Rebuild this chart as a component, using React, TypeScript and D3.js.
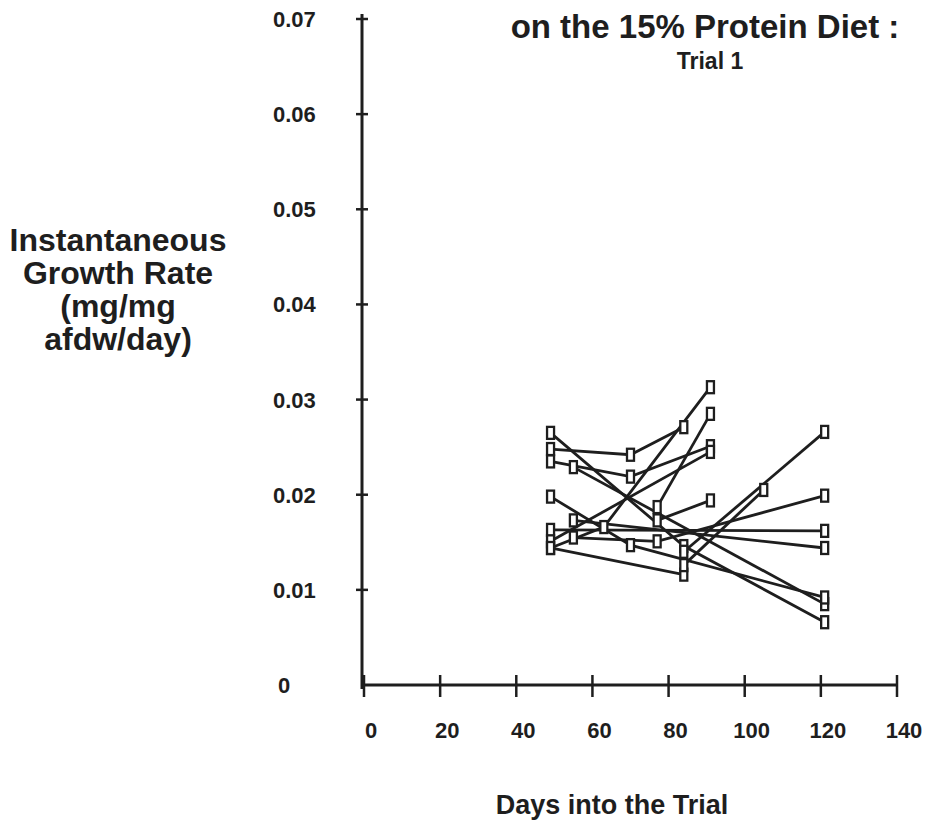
import React from "react";
import * as d3 from "d3";

// Axis ticks
const xTicks = [0, 20, 40, 60, 80, 100, 120, 140];
const yTicks = [0, 0.01, 0.02, 0.03, 0.04, 0.05, 0.06, 0.07];
const yTickLabels = ["0", "0.01", "0.02", "0.03", "0.04", "0.05", "0.06", "0.07"];

// Each fish: [day, instantaneous growth rate]
const fishA: [number, number][] = [[49, 0.0248], [70, 0.0242], [84, 0.0271]];
const fishB: [number, number][] = [[49, 0.0235], [70, 0.0219], [91, 0.0251]];
const fishC: [number, number][] = [[49, 0.0265], [84, 0.0146], [121, 0.0066]];
const fishD: [number, number][] = [[55, 0.0229], [121, 0.0085]];
const fishE: [number, number][] = [[49, 0.0198], [70, 0.0147], [121, 0.0092]];
const fishF: [number, number][] = [[49, 0.0163], [121, 0.0162]];
const fishG: [number, number][] = [[49, 0.0144], [63, 0.0166], [91, 0.0313]];
const fishH: [number, number][] = [[49, 0.0151], [91, 0.0245]];
const fishI: [number, number][] = [[49, 0.0144], [84, 0.0116]];
const fishJ: [number, number][] = [[55, 0.0173], [121, 0.0144]];
const fishK: [number, number][] = [[55, 0.0155], [77, 0.0151], [121, 0.0199]];
const fishL: [number, number][] = [[77, 0.0173], [91, 0.0194]];
const fishM: [number, number][] = [[77, 0.0187], [91, 0.0285]];
const fishN: [number, number][] = [[84, 0.014], [121, 0.0266]];
const fishO: [number, number][] = [[84, 0.0126], [105, 0.0205]];

const fishSeries = [fishA, fishB, fishC, fishD, fishE, fishF, fishG, fishH, fishI, fishJ, fishK, fishL, fishM, fishN, fishO];

const titleLine = "on the 15% Protein Diet :";
const subtitle = "Trial 1";
const yTitle = ["Instantaneous", "Growth Rate", "(mg/mg", "afdw/day)"];
const xTitle = "Days into the Trial";

const W = 926;
const H = 826;
const font = "'Liberation Sans', Arial, Helvetica, sans-serif";
const ink = "#1e1e1e";

export default function App() {
  const x = d3.scaleLinear().domain([0, 140]).range([364, 897]);
  const y = d3.scaleLinear().domain([0, 0.07]).range([685, 19]);
  const line = d3
    .line<[number, number]>()
    .x((d) => x(d[0]))
    .y((d) => y(d[1]));

  const axisX = x(0) - 2;
  const axisY = y(0);

  return (
    <div style={{ position: "fixed", left: 0, top: 0, width: W, height: H, background: "#fff" }}>
      <svg width={W} height={H} viewBox={`0 0 ${W} ${H}`} style={{ display: "block" }}>
        <rect x={0} y={0} width={W} height={H} fill="#fff" />

        {/* title */}
        <text x={705} y={38} textAnchor="middle" fontFamily={font} fontWeight="bold" fontSize={33} fill={ink}>
          {titleLine}
        </text>
        <text x={710} y={69} textAnchor="middle" fontFamily={font} fontWeight="bold" fontSize={23} fill={ink}>
          {subtitle}
        </text>

        {/* y axis */}
        <line x1={axisX} x2={axisX} y1={y(0.07) - 5} y2={axisY + 4} stroke={ink} strokeWidth={3} />
        {yTicks.map((t, i) => (
          <g key={`yt${i}`}>
            {t > 0 && (
              <line x1={axisX - 6} x2={axisX + 6} y1={y(t)} y2={y(t)} stroke={ink} strokeWidth={2.5} />
            )}
            <text
              x={t === 0 ? 278 : 273}
              y={y(t) + 8}
              textAnchor="start"
              fontFamily={font}
              fontWeight="bold"
              fontSize={22}
              fill={ink}
            >
              {yTickLabels[i]}
            </text>
          </g>
        ))}

        {/* x axis */}
        <line x1={axisX} x2={x(140)} y1={axisY} y2={axisY} stroke={ink} strokeWidth={3} />
        {xTicks.map((t) => (
          <g key={`xt${t}`}>
            <line x1={x(t)} x2={x(t)} y1={axisY - 10} y2={axisY + 12} stroke={ink} strokeWidth={2.5} />
            <text
              x={x(t) + 7}
              y={738}
              textAnchor="middle"
              fontFamily={font}
              fontWeight="bold"
              fontSize={22}
              fill={ink}
            >
              {t}
            </text>
          </g>
        ))}

        {/* axis titles */}
        <text textAnchor="middle" fontFamily={font} fontWeight="bold" fontSize={32} fill={ink}>
          {yTitle.map((s, i) => (
            <tspan key={s} x={118} y={251 + i * 33}>
              {s}
            </tspan>
          ))}
        </text>
        <text x={612} y={814} textAnchor="middle" fontFamily={font} fontWeight="bold" fontSize={27} fill={ink}>
          {xTitle}
        </text>

        {/* growth trajectories */}
        {fishSeries.map((f, i) => (
          <path key={`l${i}`} d={line(f) || ""} fill="none" stroke={ink} strokeWidth={2.8} />
        ))}
        {fishSeries.map((f, i) =>
          f.map((p, j) => (
            <rect
              key={`m${i}-${j}`}
              x={x(p[0]) - 3.5}
              y={y(p[1]) - 6}
              width={7}
              height={12}
              fill="#fff"
              stroke={ink}
              strokeWidth={2.3}
            />
          ))
        )}
      </svg>
    </div>
  );
}
